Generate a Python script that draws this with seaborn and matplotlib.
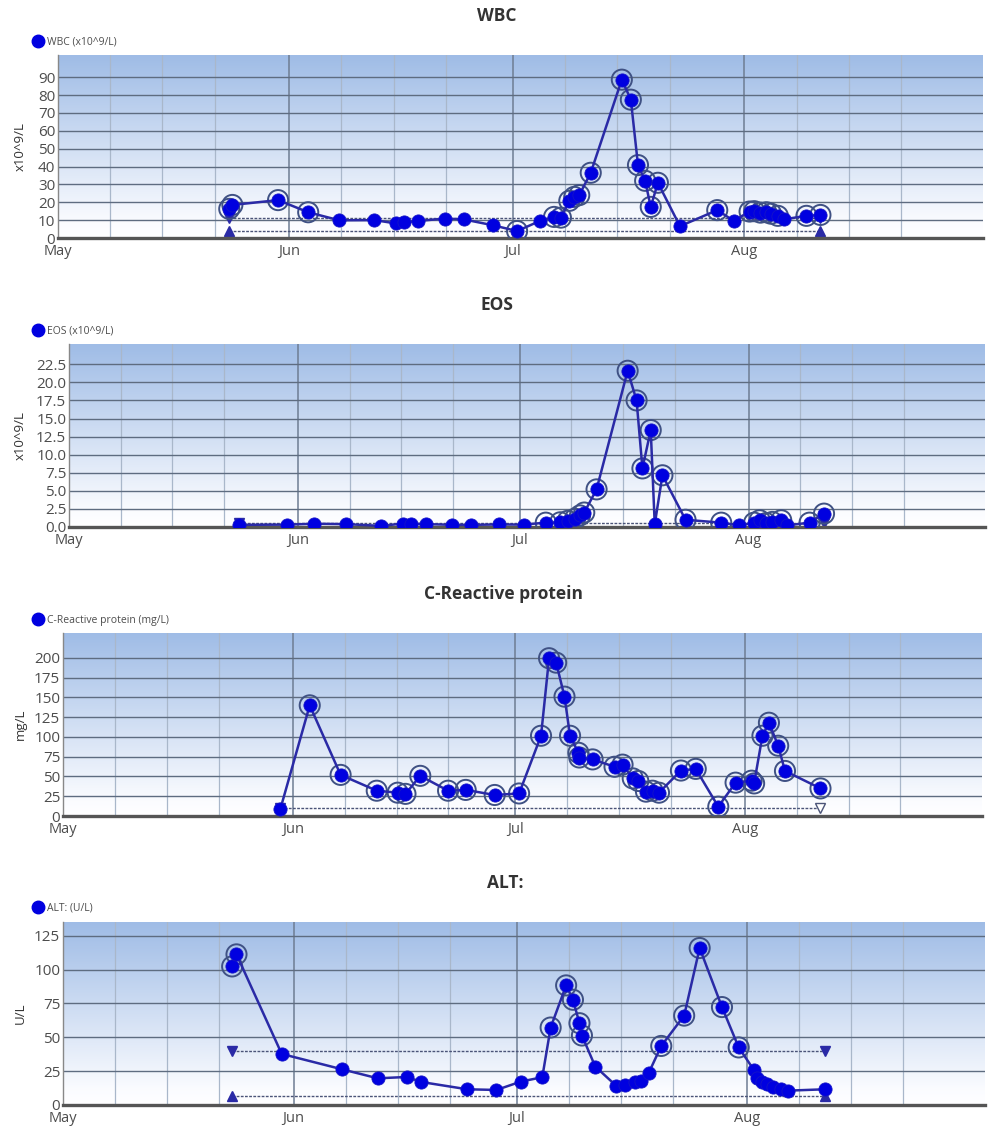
import matplotlib
matplotlib.use("Agg")
import matplotlib.dates as mdates
import matplotlib.pyplot as plt
import numpy as np
import pandas as pd
import seaborn as sns
from matplotlib.colors import LinearSegmentedColormap
from matplotlib.lines import Line2D
from matplotlib.ticker import AutoMinorLocator, FormatStrFormatter

# ---- data ----
wbc_dates = ["2021-05-23 23:00", "2021-05-24 09:00", "2021-05-30 12:00", "2021-06-03 13:00",
             "2021-06-07 17:00", "2021-06-12 10:00", "2021-06-15 06:00", "2021-06-16 10:00",
             "2021-06-18 07:00", "2021-06-21 20:00", "2021-06-24 10:00", "2021-06-28 08:00",
             "2021-07-01 13:00", "2021-07-04 14:00", "2021-07-06 12:00", "2021-07-07 10:00",
             "2021-07-08 13:00", "2021-07-09 05:00", "2021-07-09 21:00", "2021-07-11 10:00",
             "2021-07-15 14:00", "2021-07-16 19:00", "2021-07-17 18:00", "2021-07-18 17:00",
             "2021-07-19 11:00", "2021-07-20 10:00", "2021-07-23 09:00", "2021-07-28 09:00",
             "2021-07-30 14:00", "2021-08-01 17:00", "2021-08-02 08:00", "2021-08-03 04:00",
             "2021-08-03 23:00", "2021-08-04 14:00", "2021-08-05 12:00", "2021-08-06 09:00",
             "2021-08-09 08:00", "2021-08-11 05:00"]
wbc_values = [16.3, 18.5, 21.2, 14.4, 9.9, 10.0, 8.2, 8.8, 9.5, 10.9, 10.4, 7.1, 3.9, 9.5,
              11.8, 11.4, 20.8, 23.0, 24.0, 36.5, 88.6, 77.4, 40.8, 32.0, 17.4, 30.9, 6.6,
              15.6, 9.6, 14.8, 15.0, 14.2, 14.4, 13.6, 12.4, 10.5, 12.4, 12.9]
wbc_range = (4.0, 11.0)

eos_dates = ["2021-05-24 00:00", "2021-05-30 12:00", "2021-06-03 05:00", "2021-06-07 12:00",
             "2021-06-12 07:00", "2021-06-15 05:00", "2021-06-16 08:00", "2021-06-18 07:00",
             "2021-06-21 21:00", "2021-06-24 10:00", "2021-06-28 06:00", "2021-07-01 13:00",
             "2021-07-04 13:00", "2021-07-06 12:00", "2021-07-07 12:00", "2021-07-08 12:00",
             "2021-07-09 04:00", "2021-07-09 18:00", "2021-07-11 10:00", "2021-07-15 15:00",
             "2021-07-16 20:00", "2021-07-17 15:00", "2021-07-18 18:00", "2021-07-19 07:00",
             "2021-07-20 08:00", "2021-07-23 11:00", "2021-07-28 07:00", "2021-07-30 17:00",
             "2021-08-01 18:00", "2021-08-02 12:00", "2021-08-03 09:00", "2021-08-04 05:00",
             "2021-08-05 10:00", "2021-08-06 06:00", "2021-08-09 06:00", "2021-08-11 05:00"]
eos_values = [0.3, 0.33, 0.45, 0.4, 0.15, 0.48, 0.48, 0.4, 0.3, 0.3, 0.35, 0.33, 0.6, 0.65,
              0.85, 1.15, 1.6, 2.0, 5.2, 21.6, 17.5, 8.1, 13.4, 0.37, 7.15, 1.0, 0.6, 0.23,
              0.6, 0.93, 0.55, 0.7, 0.93, 0.23, 0.6, 1.85]
eos_range = (None, 0.5)

crp_dates = ["2021-05-30 08:00", "2021-06-03 07:00", "2021-06-07 11:00", "2021-06-12 08:00",
             "2021-06-15 04:00", "2021-06-16 05:00", "2021-06-18 05:00", "2021-06-21 23:00",
             "2021-06-24 08:00", "2021-06-28 06:00", "2021-07-01 13:00", "2021-07-04 12:00",
             "2021-07-05 14:00", "2021-07-06 13:00", "2021-07-07 16:00", "2021-07-08 10:00",
             "2021-07-09 13:00", "2021-07-09 16:00", "2021-07-11 11:00", "2021-07-14 10:00",
             "2021-07-15 12:00", "2021-07-16 21:00", "2021-07-17 15:00", "2021-07-18 16:00",
             "2021-07-19 13:00", "2021-07-20 10:00", "2021-07-23 09:00", "2021-07-25 09:00",
             "2021-07-28 10:00", "2021-07-30 18:00", "2021-08-01 22:00", "2021-08-02 06:00",
             "2021-08-03 09:00", "2021-08-04 06:00", "2021-08-05 12:00", "2021-08-06 10:00",
             "2021-08-11 05:00"]
crp_values = [9, 140, 52, 32, 29.5, 28, 50.8, 32, 33, 26.6, 28.5, 101.5, 199.6, 194, 151,
              101.5, 80, 74, 71.6, 62.3, 65, 47.6, 44.3, 30.8, 32, 29.5, 57.5, 59.6, 11.8,
              42.2, 44.7, 41.2, 101.5, 118, 88.9, 57, 34.9]
crp_range = (None, 10.0)

alt_dates = ["2021-05-23 18:00", "2021-05-24 08:00", "2021-05-30 10:00", "2021-06-07 12:00",
             "2021-06-12 08:00", "2021-06-16 06:00", "2021-06-18 04:00", "2021-06-24 09:00",
             "2021-06-28 07:00", "2021-07-01 14:00", "2021-07-04 11:00", "2021-07-05 14:00",
             "2021-07-07 16:00", "2021-07-08 14:00", "2021-07-09 11:00", "2021-07-09 19:00",
             "2021-07-11 14:00", "2021-07-14 10:00", "2021-07-15 15:00", "2021-07-16 22:00",
             "2021-07-17 19:00", "2021-07-18 19:00", "2021-07-20 11:00", "2021-07-23 13:00",
             "2021-07-25 15:00", "2021-07-28 15:00", "2021-07-30 21:00", "2021-08-01 22:00",
             "2021-08-02 08:00", "2021-08-03 01:00", "2021-08-03 17:00", "2021-08-04 11:00",
             "2021-08-05 14:00", "2021-08-06 13:00", "2021-08-11 11:00"]
alt_values = [102.3, 111.2, 37.7, 26.4, 19.7, 20.7, 17, 11.6, 11.1, 17.3, 20.5, 57.2, 88.3,
              77.7, 60.4, 51.3, 28.4, 14.1, 14.6, 17.3, 18, 23.9, 43.6, 66, 115.9, 72.3,
              42.5, 25.9, 19.7, 17.3, 15.5, 13.1, 12.1, 10.6, 11.6]
alt_range = (7.0, 40.0)

xStart = "2021-05-01"
xEnd = "2021-09-02"

# ---- styling ----
W, H = 991, 1128
BLUE = "#0000e0"
LINE = "#2a2aa6"
RING = "#3f5184"
REF = "#4b5478"
TEXT = "#4d4d4d"

bgCmap = LinearSegmentedColormap.from_list(
    "bg", [(0.0, "#ffffff"), (0.08, "#fbfcff"), (1.0, "#9fbce6")])


def drawPanel(fig, box, title, titleXY, legendLabel, legendY, yLabel,
              dates, values, refRange, ymax, yticks, yfmt, hollowEnd=False):
    left, top, right, bottom = box
    ax = fig.add_axes([left / W, 1 - bottom / H, (right - left) / W,
                       (bottom - top) / H])
    df = pd.DataFrame({"date": pd.to_datetime(dates), "value": values})
    lo, hi = refRange

    # reference range lines
    d0, d1 = df["date"].iloc[0], df["date"].iloc[-1]
    for lim, mk in ((hi, "v"), (lo, "^")):
        if lim is None:
            continue
        ax.plot([d0, d1], [lim, lim], color=REF, lw=1, ls=(0, (2, 1)),
                zorder=2)
        ax.plot([d0], [lim], marker=mk, color=LINE, ms=7.5, ls="", zorder=2.5)
        if hollowEnd and mk == "v":
            ax.plot([d1], [lim], marker=mk, mfc="white", mec=REF, ms=7.5,
                    ls="", zorder=2.5)
        else:
            ax.plot([d1], [lim], marker=mk, color=LINE, ms=7.5, ls="",
                    zorder=2.5)

    # main series
    sns.lineplot(data=df, x="date", y="value", ax=ax, color=LINE, lw=1.8,
                 marker="o", markersize=9.5, markerfacecolor=BLUE,
                 markeredgecolor="#1414c8", markeredgewidth=0.6, zorder=4)

    # abnormal values get an outer ring
    out = df["value"] > hi
    if lo is not None:
        out = out | (df["value"] < lo)
    sns.scatterplot(data=df[out], x="date", y="value", ax=ax, s=210,
                    facecolor="none", edgecolor=RING, linewidth=1.4,
                    zorder=3.5)

    # gradient background
    grad = np.linspace(0, 1, 256).reshape(-1, 1)
    ax.imshow(grad, cmap=bgCmap, origin="lower", aspect="auto",
              extent=[0, 1, 0, 1], transform=ax.transAxes, zorder=0)

    ax.set_xlim(pd.Timestamp(xStart), pd.Timestamp(xEnd))
    ax.set_ylim(0, ymax)
    ax.set_yticks(yticks)
    ax.yaxis.set_major_formatter(FormatStrFormatter(yfmt))
    ax.yaxis.set_minor_locator(AutoMinorLocator(5))
    ax.xaxis.set_major_locator(mdates.MonthLocator(bymonth=[5, 6, 7, 8]))
    ax.xaxis.set_minor_locator(mdates.DayLocator(bymonthday=[8, 15, 22]))
    ax.xaxis.set_major_formatter(mdates.DateFormatter("%b"))

    ax.grid(axis="y", which="major", color="#5e6c80", lw=1)
    ax.grid(axis="x", which="major", color="#6e7d93", lw=1.1)
    ax.grid(axis="x", which="minor", color="#a9b7ca", lw=0.9)

    ax.tick_params(axis="x", which="both", length=0, labelsize=10.5,
                   labelcolor=TEXT, pad=4)
    ax.tick_params(axis="y", which="major", direction="in", length=4,
                   color="#777777", labelsize=11, labelcolor=TEXT, pad=2)
    ax.tick_params(axis="y", which="minor", direction="in", length=2.5,
                   color="#888888")
    for s in ("top", "right"):
        ax.spines[s].set_visible(False)
    ax.spines["left"].set_color("#888888")
    ax.spines["left"].set_linewidth(1)
    ax.spines["bottom"].set_color("#555555")
    ax.spines["bottom"].set_linewidth(2.4)
    ax.set_xlabel("")
    ax.set_ylabel("")

    fig.text(20 / W, 1 - (top + bottom) / 2 / H, yLabel, rotation=90,
             ha="center", va="center", fontsize=9.5, color="#333333")
    fig.text(titleXY[0] / W, 1 - titleXY[1] / H, title, ha="center",
             va="center", fontsize=12.5, fontweight="bold", color="#333333")
    handle = Line2D([], [], marker="o", ls="", color=BLUE, ms=9)
    ax.legend([handle], [legendLabel], loc="center left",
              bbox_to_anchor=(33 / W, 1 - legendY / H),
              bbox_transform=fig.transFigure, frameon=False, fontsize=7.5,
              labelcolor=TEXT, handlelength=1, handletextpad=0.3,
              borderpad=0, borderaxespad=0)
    return ax


def main():
    sns.set_theme(style="white")
    plt.rcParams["font.family"] = ["Open Sans", "DejaVu Sans"]
    fig = plt.figure(figsize=(W / 100, H / 100), dpi=100)
    fig.patch.set_facecolor("white")

    drawPanel(fig, (58, 55, 983, 238), "WBC", (497, 16), "WBC (x10^9/L)", 42,
              "x10^9/L", wbc_dates, wbc_values, wbc_range, 102.4,
              np.arange(0, 91, 10), "%d")
    drawPanel(fig, (69, 344, 985, 527), "EOS", (497, 305), "EOS (x10^9/L)", 331,
              "x10^9/L", eos_dates, eos_values, eos_range, 25.3,
              np.arange(0, 22.6, 2.5), "%.1f")
    drawPanel(fig, (63, 633, 982, 816), "C-Reactive protein", (503, 594),
              "C-Reactive protein (mg/L)", 620, "mg/L", crp_dates, crp_values,
              crp_range, 231.5, np.arange(0, 201, 25), "%d", hollowEnd=True)
    drawPanel(fig, (63, 922, 985, 1105), "ALT:", (505, 883), "ALT: (U/L)", 908,
              "U/L", alt_dates, alt_values, alt_range, 135.1,
              np.arange(0, 126, 25), "%d")

    fig.savefig("out.png", dpi=100)
    plt.close(fig)


if __name__ == "__main__":
    main()
